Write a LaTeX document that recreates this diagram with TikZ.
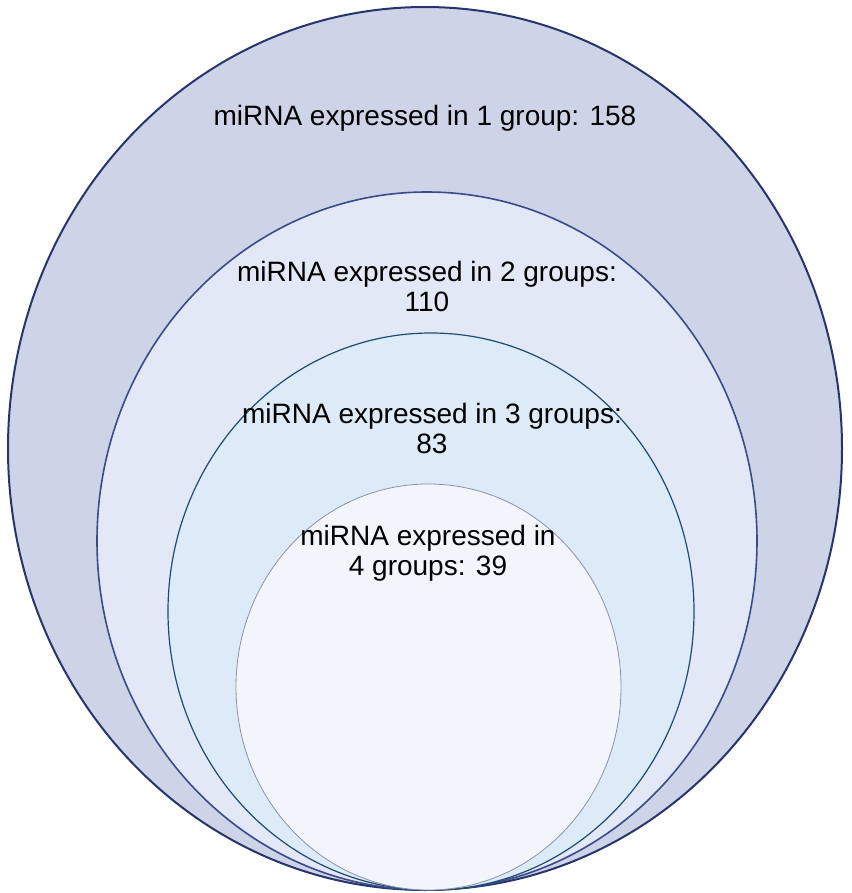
\documentclass[tikz,border=0pt]{standalone}
\usepackage{fontspec}
\setmainfont{Liberation Sans}
\usepackage{tikz}

\definecolor{fillA}{HTML}{CDD4E7}
\definecolor{fillB}{HTML}{E3E8F7}
\definecolor{fillC}{HTML}{DDEAF8}
\definecolor{fillD}{HTML}{F2F5FB}
\definecolor{lineA}{HTML}{27356B}
\definecolor{lineB}{HTML}{3B4A8A}
\definecolor{lineC}{HTML}{1E4C6E}
\definecolor{lineD}{HTML}{8A93A8}

\begin{document}
\begin{tikzpicture}[x=0.75pt, y=-0.75pt,
  label/.style={align=center, font=\fontsize{21}{22.5}\selectfont, text=black, inner sep=0pt}]
\useasboundingbox (0, 0) rectangle (851, 893);

\draw [fill=fillA, draw=lineA, line width=1.5pt] (425, 448.5) ellipse [x radius=417, y radius=441.5];
\draw [fill=fillB, draw=lineB, line width=1.2pt] (427, 541) ellipse [x radius=330, y radius=349];
\draw [fill=fillC, draw=lineC, line width=0.9pt] (431, 611.5) ellipse [x radius=263, y radius=278.5];
\draw [fill=fillD, draw=lineD, line width=0.6pt] (428.5, 687) ellipse [x radius=192.5, y radius=203];

\node [label] (one) at (425, 118) {miRNA expressed in 1 group: 158};
\node [label] (two) at (427, 286) {miRNA expressed in 2 groups:\\110};
\node [label] (three) at (432, 428) {miRNA expressed in 3 groups:\\83};
\node [label] (four) at (428, 553) {miRNA expressed in\\4 groups: 39};
\end{tikzpicture}
\end{document}
